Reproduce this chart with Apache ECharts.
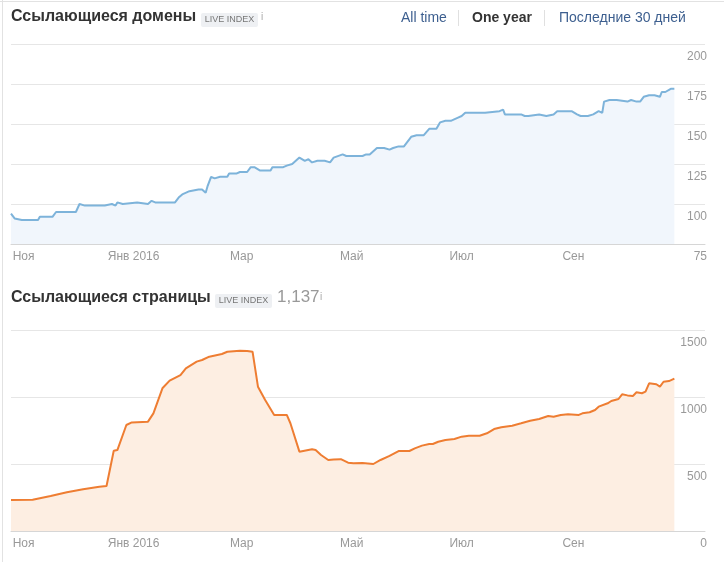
<!DOCTYPE html>
<html>
<head>
<meta charset="utf-8">
<script src="https://cdn.jsdelivr.net/npm/echarts@6/dist/echarts.min.js"></script>
<style>
  html, body { margin: 0; padding: 0; background: #fff; }
  #chart { width: 724px; height: 562px; }
</style>
</head>
<body>
<div id="chart"></div>
<script>
// Ссылающиеся домены
var domainDates = [
  '2015-10-25', '2015-10-27', '2015-10-31', '2015-11-09', '2015-11-10', '2015-11-17', '2015-11-19',
  '2015-11-22', '2015-11-23', '2015-11-24', '2015-11-30', '2015-12-02', '2015-12-05', '2015-12-16',
  '2015-12-17', '2015-12-20', '2015-12-22', '2015-12-23', '2015-12-26', '2015-12-27', '2016-01-03',
  '2016-01-04', '2016-01-09', '2016-01-11', '2016-01-13', '2016-01-24', '2016-01-26', '2016-01-28',
  '2016-02-01', '2016-02-06', '2016-02-08', '2016-02-10', '2016-02-11', '2016-02-13', '2016-02-15',
  '2016-02-18', '2016-02-22', '2016-02-23', '2016-02-27', '2016-02-29', '2016-03-04', '2016-03-06',
  '2016-03-08', '2016-03-11', '2016-03-13', '2016-03-17', '2016-03-18', '2016-03-24', '2016-03-26',
  '2016-03-29', '2016-04-02', '2016-04-05', '2016-04-07', '2016-04-09', '2016-04-12', '2016-04-16',
  '2016-04-17', '2016-04-19', '2016-04-21', '2016-04-26', '2016-04-28', '2016-05-07', '2016-05-09',
  '2016-05-11', '2016-05-15', '2016-05-19', '2016-05-22', '2016-05-24', '2016-05-27', '2016-05-30',
  '2016-06-03', '2016-06-06', '2016-06-10', '2016-06-13', '2016-06-17', '2016-06-19', '2016-06-22',
  '2016-06-25', '2016-06-29', '2016-07-01', '2016-07-03', '2016-07-11', '2016-07-12', '2016-07-14',
  '2016-07-15', '2016-07-22', '2016-07-24', '2016-07-25', '2016-08-03', '2016-08-05', '2016-08-07',
  '2016-08-13', '2016-08-14', '2016-08-17', '2016-08-21', '2016-08-23', '2016-08-31', '2016-09-03',
  '2016-09-05', '2016-09-09', '2016-09-12', '2016-09-15', '2016-09-17', '2016-09-18', '2016-09-21',
  '2016-09-25', '2016-09-26', '2016-10-01', '2016-10-03', '2016-10-06', '2016-10-08', '2016-10-10',
  '2016-10-13', '2016-10-14', '2016-10-16', '2016-10-19', '2016-10-20', '2016-10-22', '2016-10-25',
  '2016-10-27'
]
var domainValues = [
  94, 91, 90, 90, 92, 92, 95,
  95, 94, 95, 95, 100, 99, 99,
  98, 100, 99, 101, 100, 101, 101,
  100, 100, 102, 101, 101, 104, 106,
  108, 109, 109, 107, 111, 117, 116,
  117, 117, 119, 119, 120, 120, 123,
  123, 121, 121, 121, 123, 123, 124,
  125, 129, 127, 128, 126, 127, 127,
  128, 126, 129, 131, 130, 130, 131,
  131, 135, 135, 134, 135, 136, 136,
  142, 143, 143, 147, 147, 151, 152,
  152, 154, 155, 157, 157, 158, 157,
  158, 158, 159, 156, 156, 155, 155,
  156, 157, 155, 156, 158, 158, 156,
  155, 155, 156, 158, 157, 164, 165,
  165, 164, 164, 165, 164, 164, 167,
  168, 167, 168, 167, 170, 170, 172,
  172
]

// Ссылающиеся страницы
var pageDates = [
  '2015-10-25', '2015-11-06', '2015-11-16', '2015-11-25', '2015-12-04', '2015-12-13', '2015-12-17',
  '2015-12-21', '2015-12-23', '2015-12-28', '2015-12-31', '2016-01-09', '2016-01-12', '2016-01-17',
  '2016-01-21', '2016-01-27', '2016-01-30', '2016-02-05', '2016-02-08', '2016-02-12', '2016-02-19',
  '2016-02-22', '2016-02-29', '2016-03-04', '2016-03-07', '2016-03-10', '2016-03-14', '2016-03-19',
  '2016-03-26', '2016-03-28', '2016-04-02', '2016-04-09', '2016-04-11', '2016-04-14', '2016-04-18',
  '2016-04-21', '2016-04-25', '2016-04-29', '2016-05-02', '2016-05-07', '2016-05-13', '2016-05-17',
  '2016-05-22', '2016-05-27', '2016-06-02', '2016-06-05', '2016-06-09', '2016-06-13', '2016-06-15',
  '2016-06-18', '2016-06-22', '2016-06-27', '2016-07-01', '2016-07-05', '2016-07-11', '2016-07-15',
  '2016-07-19', '2016-07-23', '2016-07-29', '2016-08-03', '2016-08-08', '2016-08-13', '2016-08-18',
  '2016-08-21', '2016-08-25', '2016-08-29', '2016-09-04', '2016-09-06', '2016-09-10', '2016-09-13',
  '2016-09-15', '2016-09-20', '2016-09-22', '2016-09-26', '2016-09-28', '2016-10-01', '2016-10-04',
  '2016-10-06', '2016-10-09', '2016-10-11', '2016-10-13', '2016-10-17', '2016-10-19', '2016-10-21',
  '2016-10-24', '2016-10-27'
]
var pageValues = [
  231, 233, 261, 289, 311, 331, 336,
  599, 604, 791, 810, 816, 878, 1065,
  1122, 1164, 1214, 1264, 1276, 1301, 1321,
  1338, 1346, 1343, 1338, 1077, 978, 866,
  866, 804, 592, 610, 604, 567, 530,
  533, 536, 510, 505, 507, 500, 530,
  560, 597, 597, 617, 637, 649, 649,
  666, 679, 687, 704, 711, 711, 729,
  761, 774, 786, 804, 823, 836, 858,
  853, 866, 871, 866, 878, 886, 903,
  928, 953, 970, 985, 1020, 1012, 1008,
  1035, 1028, 1040, 1102, 1095, 1077, 1114,
  1119, 1137
]

// подписи оси X
var tickDates = ['2015-11-01', '2016-01-01', '2016-03-01', '2016-05-01', '2016-07-01', '2016-09-01']
var monthNames = ['Янв', 'Фев', 'Мар', 'Апр', 'Май', 'Июн', 'Июл', 'Авг', 'Сен', 'Окт', 'Ноя', 'Дек']
var xRange = ['2015-10-25', '2016-11-13']
// шкалы Y: min, max, шаг
var domainScale = [75, 200, 25]
var pageScale = [0, 1500, 500]

var FONT = '"Liberation Sans", Arial, sans-serif'

function ts (d) {
  return echarts.number.parseDate(d).getTime()
}
var tickValues = tickDates.map(ts)

function pairs (dates, values) {
  return dates.map(function (d, i) { return [ts(d), values[i]] })
}

// ось времени как числовая ось (метки ставим сами)
function timeAxis (gridIndex) {
  return {
    type: 'value',
    gridIndex: gridIndex,
    min: ts(xRange[0]),
    max: ts(xRange[1]),
    axisLine: {lineStyle: {color: '#d6d6d6'}},
    axisTick: {
      show: true,
      inside: true,
      length: 6,
      customValues: tickValues,
      lineStyle: {color: '#d6d6d6'}
    },
    axisLabel: {
      customValues: tickValues,
      margin: 7,
      color: '#999',
      fontSize: 12,
      fontFamily: FONT,
      formatter: function (val) {
        var d = new Date(val)
        var m = monthNames[d.getMonth()]
        return d.getMonth() === 0 ? m + ' ' + d.getFullYear() : m
      }
    },
    splitLine: {show: false}
  }
}

function valueAxis (gridIndex, scale) {
  return {
    type: 'value',
    gridIndex: gridIndex,
    position: 'right',
    min: scale[0],
    max: scale[1],
    interval: scale[2],
    axisLine: {show: false},
    axisTick: {show: false},
    axisLabel: {
      align: 'right',
      verticalAlign: 'top',
      padding: [7, 0, 0, 0],
      margin: 2,
      color: '#999',
      fontSize: 12,
      fontFamily: FONT,
      formatter: function (v) { return String(v) }
    },
    splitLine: {lineStyle: {color: '#e6e6e6'}}
  }
}

function badge (x, y) {
  return [
    {type: 'rect', shape: {x: x, y: y, width: 57, height: 14, r: 2}, style: {fill: '#eef0f3'}},
    {type: 'text', x: x + 28.5, y: y + 7, style: {text: 'LIVE INDEX', fill: '#777', font: '9px ' + FONT, align: 'center', verticalAlign: 'middle'}}
  ]
}

var chart = echarts.init(document.getElementById('chart'))

chart.setOption({
  animation: false,
  grid: [
    {left: 11, right: 19, top: 44, height: 200},
    {left: 11, right: 19, top: 330, height: 201}
  ],
  xAxis: [timeAxis(0), timeAxis(1)],
  yAxis: [valueAxis(0, domainScale), valueAxis(1, pageScale)],
  series: [
    {
      name: 'Ссылающиеся домены',
      type: 'line',
      xAxisIndex: 0,
      yAxisIndex: 0,
      symbol: 'none',
      lineStyle: {color: '#7db3da', width: 2},
      areaStyle: {color: '#f1f6fc', opacity: 1, origin: 'start'},
      data: pairs(domainDates, domainValues)
    },
    {
      name: 'Ссылающиеся страницы',
      type: 'line',
      xAxisIndex: 1,
      yAxisIndex: 1,
      symbol: 'none',
      lineStyle: {color: '#ee7d32', width: 2},
      areaStyle: {color: '#fdeee2', opacity: 1, origin: 'start'},
      data: pairs(pageDates, pageValues)
    }
  ],
  graphic: [
    // рамка страницы
    {type: 'line', shape: {x1: 0, y1: 1.5, x2: 724, y2: 1.5}, style: {stroke: '#e2e2e2', lineWidth: 1}},
    {type: 'line', shape: {x1: 2.5, y1: 0, x2: 2.5, y2: 562}, style: {stroke: '#e2e2e2', lineWidth: 1}},
    // заголовок 1
    {type: 'text', x: 11, y: 9, style: {text: 'Ссылающиеся домены', fill: '#333', font: 'bold 16px ' + FONT}},
    ...badge(201, 13),
    {type: 'text', x: 261, y: 12, style: {text: 'i', fill: '#aaa', font: '10px ' + FONT}},
    // переключатель периода
    {type: 'text', x: 401, y: 11, style: {text: 'All time', fill: '#3d5f8f', font: '14px ' + FONT}},
    {type: 'line', shape: {x1: 458.5, y1: 10, x2: 458.5, y2: 26}, style: {stroke: '#e0e0e0', lineWidth: 1}},
    {type: 'text', x: 472, y: 11, style: {text: 'One year', fill: '#333', font: 'bold 14px ' + FONT}},
    {type: 'line', shape: {x1: 544.5, y1: 10, x2: 544.5, y2: 26}, style: {stroke: '#e0e0e0', lineWidth: 1}},
    {type: 'text', x: 559, y: 11, style: {text: 'Последние 30 дней', fill: '#3d5f8f', font: '14px ' + FONT}},
    // заголовок 2
    {type: 'text', x: 11, y: 290, style: {text: 'Ссылающиеся страницы', fill: '#333', font: 'bold 16px ' + FONT}},
    ...badge(215, 294),
    {type: 'text', x: 277, y: 289, style: {text: '1,137', fill: '#999', font: '17px ' + FONT}},
    {type: 'text', x: 320, y: 292, style: {text: 'i', fill: '#aaa', font: '10px ' + FONT}}
  ]
})
</script>
</body>
</html>
